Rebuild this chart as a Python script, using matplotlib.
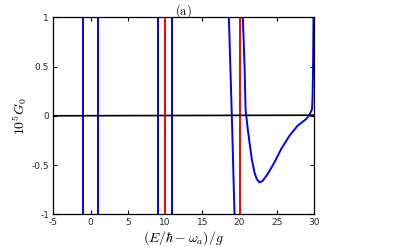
import numpy as np
import matplotlib
matplotlib.use("Agg")
import matplotlib.pyplot as plt

plt.rcParams['mathtext.fontset'] = 'cm'
plt.rcParams['axes.unicode_minus'] = False

# pole positions (vertical lines)
blue_poles = [-1, 1, 9, 11]
red_poles = [10, 20]

# blue branch just left of 20
left_x = [18.57, 18.97, 19.33]
left_y = [1.0, 0.0, -1.0]

# blue branch right of 20
right_x = [20.45, 20.68, 20.81, 20.90, 21.11, 21.34, 21.65, 22.01, 22.32, 22.68,
           23.12, 23.79, 24.69, 25.59, 26.70, 27.81, 28.94, 29.38, 29.74,
           29.80, 29.86, 29.90, 29.93]
right_y = [1.0, 0.5, 0.068, 0.007, -0.135, -0.27, -0.44, -0.575, -0.643, -0.676,
           -0.66, -0.59, -0.473, -0.338, -0.203, -0.10, -0.034, 0.007, 0.068,
           0.17, 0.4, 0.7, 1.0]

# black curve (almost zero)
black_x = [-5, 30]
black_y = [0.0, 0.006]

xticks = [-5, 0, 5, 10, 15, 20, 25, 30]
yticks = [-1, -0.5, 0, 0.5, 1]
ytick_labels = ['-1', '-0.5', '0', '0.5', '1']

fig = plt.figure(figsize=(4.15, 2.47), dpi=100)
ax = fig.add_axes([0.1284, 0.1324, 0.6282, 0.7976])

for p in blue_poles:
    ax.axvline(p, color='#0000ff', lw=1.4)
ax.plot(left_x, left_y, color='#0000ff', lw=1.4)
ax.plot(right_x, right_y, color='#0000ff', lw=1.4, solid_joinstyle='round')
for p in red_poles:
    ax.axvline(p, color='#ff0000', lw=1.4)
ax.plot(black_x, black_y, color='black', lw=1.2)

ax.set_xlim(-5, 30)
ax.set_ylim(-1, 1)
ax.set_xticks(xticks)
ax.set_yticks(yticks)
ax.set_yticklabels(ytick_labels)
ax.tick_params(direction='in', top=True, right=True, length=3, width=0.8,
               labelsize=6.5, labelcolor='#262626', pad=3)
for s in ax.spines.values():
    s.set_linewidth(0.9)

ax.set_xlabel(r'$(E/\hbar-\omega_a)/g$', fontsize=10, labelpad=1)
ax.set_ylabel(r'$10^5G_0$', fontsize=10, labelpad=2)
ax.set_title(r'$\mathrm{(a)}$', fontsize=9, pad=2)

fig.savefig('out.png', dpi=100)
